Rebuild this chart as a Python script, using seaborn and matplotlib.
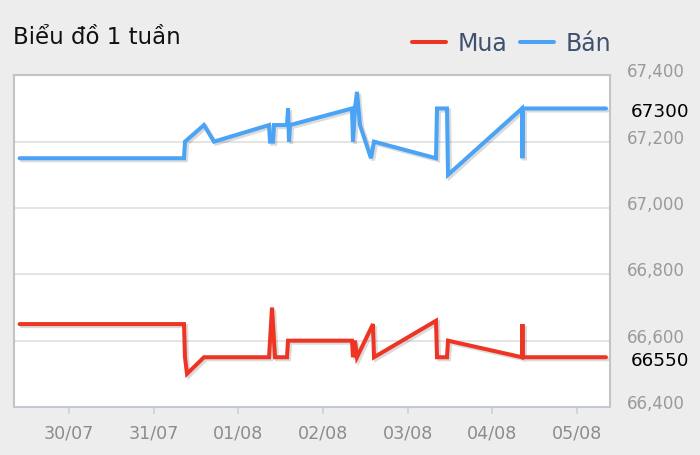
import matplotlib
matplotlib.use("Agg")
import matplotlib.pyplot as plt
import matplotlib.dates as mdates
import matplotlib.patheffects as pe
import matplotlib.transforms as mtransforms
import seaborn as sns
import pandas as pd

# ---- data ----
title_text = "Biểu đồ 1 tuần"
series_names = ["Mua", "Bán"]
series_colors = ["#ee3524", "#4aa3f5"]

buy_times = [
    "2017-07-29 10:00", "2017-07-31 08:36", "2017-07-31 08:53", "2017-07-31 09:27",
    "2017-07-31 14:16", "2017-08-01 08:42", "2017-08-01 09:33", "2017-08-01 10:24",
    "2017-08-01 13:48", "2017-08-01 14:05", "2017-08-02 08:13", "2017-08-02 08:30",
    "2017-08-02 09:04", "2017-08-02 09:38", "2017-08-02 14:10", "2017-08-02 14:27",
    "2017-08-03 08:02", "2017-08-03 08:19", "2017-08-03 11:09", "2017-08-03 11:26",
    "2017-08-04 08:24", "2017-08-04 08:32", "2017-08-04 08:41", "2017-08-05 08:13",
]
buy_values = [
    66650, 66650, 66550, 66500,
    66550, 66550, 66700, 66550,
    66550, 66600, 66600, 66550,
    66600, 66550, 66650, 66550,
    66660, 66550, 66550, 66600,
    66550, 66650, 66550, 66550,
]

sell_times = [
    "2017-07-29 10:00", "2017-07-31 08:36", "2017-07-31 08:53", "2017-07-31 14:16",
    "2017-07-31 17:06", "2017-08-01 08:42", "2017-08-01 08:59", "2017-08-01 09:50",
    "2017-08-01 10:07", "2017-08-01 13:48", "2017-08-01 14:05", "2017-08-01 14:22",
    "2017-08-01 14:39", "2017-08-02 08:13", "2017-08-02 08:30", "2017-08-02 09:04",
    "2017-08-02 09:38", "2017-08-02 10:29", "2017-08-02 13:36", "2017-08-02 14:27",
    "2017-08-03 08:02", "2017-08-03 08:19", "2017-08-03 11:09", "2017-08-03 11:26",
    "2017-08-04 08:24", "2017-08-04 08:32", "2017-08-04 08:41", "2017-08-05 08:13",
]
sell_values = [
    67150, 67150, 67200, 67250,
    67200, 67250, 67200, 67200,
    67250, 67250, 67300, 67200,
    67250, 67300, 67200, 67300,
    67350, 67250, 67150, 67200,
    67150, 67300, 67300, 67100,
    67300, 67150, 67300, 67300,
]

y_ticks = [66400, 66600, 66800, 67000, 67200, 67400]
y_grid = [66600, 66800, 67000, 67200]
last_buy = 66550
last_sell = 67300

# ---- build table ----
df = pd.concat([
    pd.DataFrame({"time": pd.to_datetime(buy_times), "price": buy_values, "series": series_names[0]}),
    pd.DataFrame({"time": pd.to_datetime(sell_times), "price": sell_values, "series": series_names[1]}),
], ignore_index=True)

sns.set_theme(style="white")
plt.rcParams['font.family'] = ['DejaVu Sans']

bg = "#ededed"
fig = plt.figure(figsize=(7, 4.56), dpi=100, facecolor=bg)
ax = fig.add_axes([14 / 700, 1 - 408 / 456, 596 / 700, 331.7 / 456])
ax.set_facecolor("white")

sns.lineplot(data=df, x="time", y="price", hue="series",
             palette=dict(zip(series_names, series_colors)),
             estimator=None, sort=False, linewidth=2.9, ax=ax, legend=True)

for ln in ax.get_lines():
    ln.set_solid_joinstyle("miter")
    ln.set_path_effects([pe.SimpleLineShadow(offset=(1.5, -1.5), shadow_color="black", alpha=0.14),
                         pe.Normal()])

# axes limits
ax.set_ylim(66410, 67400)
ax.set_xlim(pd.Timestamp("2017-07-29 08:25"), pd.Timestamp("2017-08-05 09:21"))

# grid
for g in y_grid:
    ax.axhline(g, color="#dcdcdc", lw=1.1, zorder=0)

# spines
for s in ["left", "top", "right"]:
    ax.spines[s].set_color("#c4c4c4")
    ax.spines[s].set_linewidth(1.5)
ax.spines["bottom"].set_color("#c4c8d0")
ax.spines["bottom"].set_linewidth(1.5)

# x axis
ax.xaxis.set_major_locator(mdates.DayLocator())
ax.xaxis.set_major_formatter(mdates.DateFormatter("%d/%m"))
ax.tick_params(axis="x", bottom=True, length=5, width=1.1, color="#c0d0e0",
               labelsize=12.6, labelcolor="#8c8c8c", pad=7, direction="out")
ax.set_xlabel("")

# y axis on right
ax.yaxis.tick_right()
ax.set_yticks(y_ticks)
ax.set_yticklabels([f"{v:,}" for v in y_ticks])
ax.tick_params(axis="y", right=False, left=False, length=0, labelsize=12,
               labelcolor="#9a9a9a", pad=12)
ax.set_ylabel("")
up_shift = mtransforms.ScaledTranslation(0, 6 / 100, fig.dpi_scale_trans)
for lab in ax.get_yticklabels():
    lab.set_transform(lab.get_transform() + up_shift)

# last value annotations
down_shift = mtransforms.ScaledTranslation(0, -3 / 100, fig.dpi_scale_trans)
trans = mtransforms.blended_transform_factory(ax.transAxes, ax.transData) + down_shift
ax.text(1 + 21 / 596, last_sell, f"{last_sell}", transform=trans, ha="left", va="center",
        fontsize=13.2, color="black")
ax.text(1 + 21 / 596, last_buy, f"{last_buy}", transform=trans, ha="left", va="center",
        fontsize=13.2, color="black")

# title
fig.text(13 / 700, 1 - 37 / 456, title_text, ha="left", va="center", fontsize=16.5, color="#111111")

# legend
handles, labels = ax.get_legend_handles_labels()
leg = ax.legend(handles, labels, loc="center right", bbox_to_anchor=(611 / 700, 1 - 44 / 456),
                bbox_transform=fig.transFigure, ncol=2, frameon=False, fontsize=17,
                handlelength=1.44, handletextpad=0.5, columnspacing=0.5, borderpad=0,
                borderaxespad=0)
for t in leg.get_texts():
    t.set_color("#3f5070")
for h in leg.get_lines():
    h.set_linewidth(2.9)
    h.set_path_effects([])

fig.savefig("out.png", dpi=100, facecolor=bg)
